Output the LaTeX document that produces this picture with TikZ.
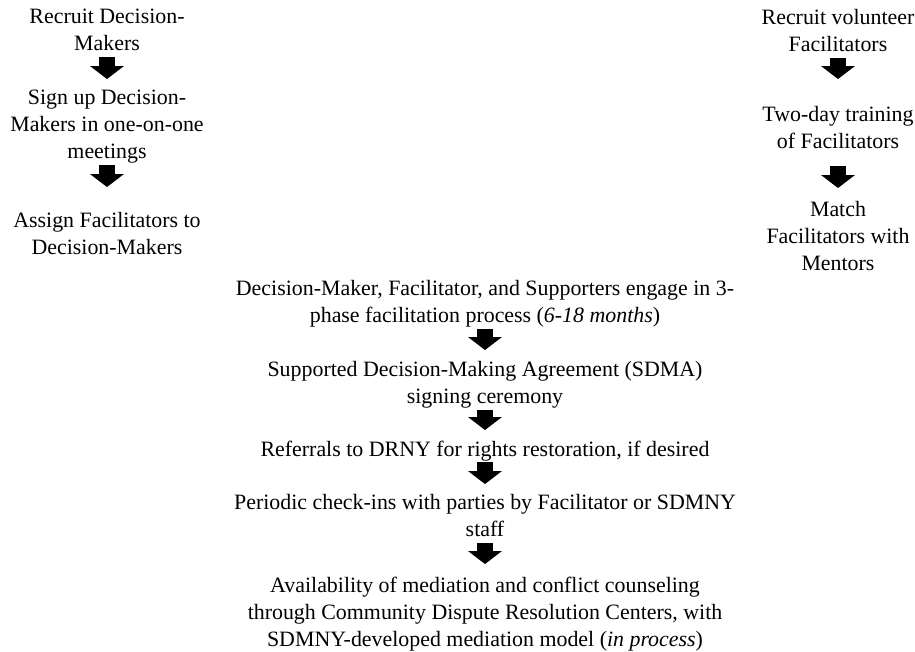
\documentclass[tikz,border=0pt]{standalone}
\usepackage{fontspec}
\setmainfont{Liberation Serif}
\usetikzlibrary{arrows.meta}

\newcommand{\lh}{\rule[-6pt]{0pt}{22pt}}

\tikzset{
  step text/.style={anchor=north, align=center, inner sep=0pt,
    font=\fontsize{21.9}{27}\selectfont,
    execute at begin node=\lh, execute at end node=\lh},
  block arrow/.style={line width=16pt, shorten >=10pt,
    -{Triangle[length=13pt, width=34pt, line width=0pt]}}
}

\begin{document}
\begin{tikzpicture}[x=1pt, y=-1pt]
        \useasboundingbox (0,0) rectangle (915,651);

        % decision-makers
        \node[step text] (dm1) at (107, 9)   {Recruit Decision-\\Makers};
        \node[step text] (dm2) at (107, 90)  {Sign up Decision-\\Makers in one-on-one\\meetings};
        \node[step text] (dm3) at (107, 212) {Assign Facilitators to\\Decision-Makers};

        % facilitators
        \node[step text] (fc1) at (838, 9)   {Recruit volunteer\\Facilitators};
        \node[step text] (fc2) at (838, 106) {Two-day training\\of Facilitators};
        \node[step text] (fc3) at (838, 201) {Match\\Facilitators with\\Mentors};

        % joint process
        \node[step text] (pr1) at (485, 280) {Decision-Maker, Facilitator, and Supporters engage in 3-\\phase facilitation process (\textit{6-18 months})};
        \node[step text] (pr2) at (485, 361) {Supported Decision-Making Agreement (SDMA)\\signing ceremony};
        \node[step text] (pr3) at (485, 440) {Referrals to DRNY for rights restoration, if desired};
        \node[step text] (pr4) at (485, 494) {Periodic check-ins with parties by Facilitator or SDMNY\\staff};
        \node[step text] (pr5) at (485, 577) {Availability of mediation and conflict counseling\\through Community Dispute Resolution Centers, with\\SDMNY-developed mediation model (\textit{in process})};

        \draw [block arrow, shorten >=11pt]   (dm1) -- (dm2);
        \draw [block arrow, shorten >=25pt]   (dm2) -- (dm3);
        \draw [block arrow, shorten >=27pt]   (fc1) -- (fc2);
        \draw [block arrow, shorten <=11pt, shorten >=13pt] (fc2) -- (fc3);
        \draw [block arrow, shorten >=11pt]   (pr1) -- (pr2);
        \draw [block arrow]                   (pr2) -- (pr3);
        \draw [block arrow]                   (pr3) -- (pr4);
        \draw [block arrow, shorten >=13pt]   (pr4) -- (pr5);
    \end{tikzpicture}
\end{document}
